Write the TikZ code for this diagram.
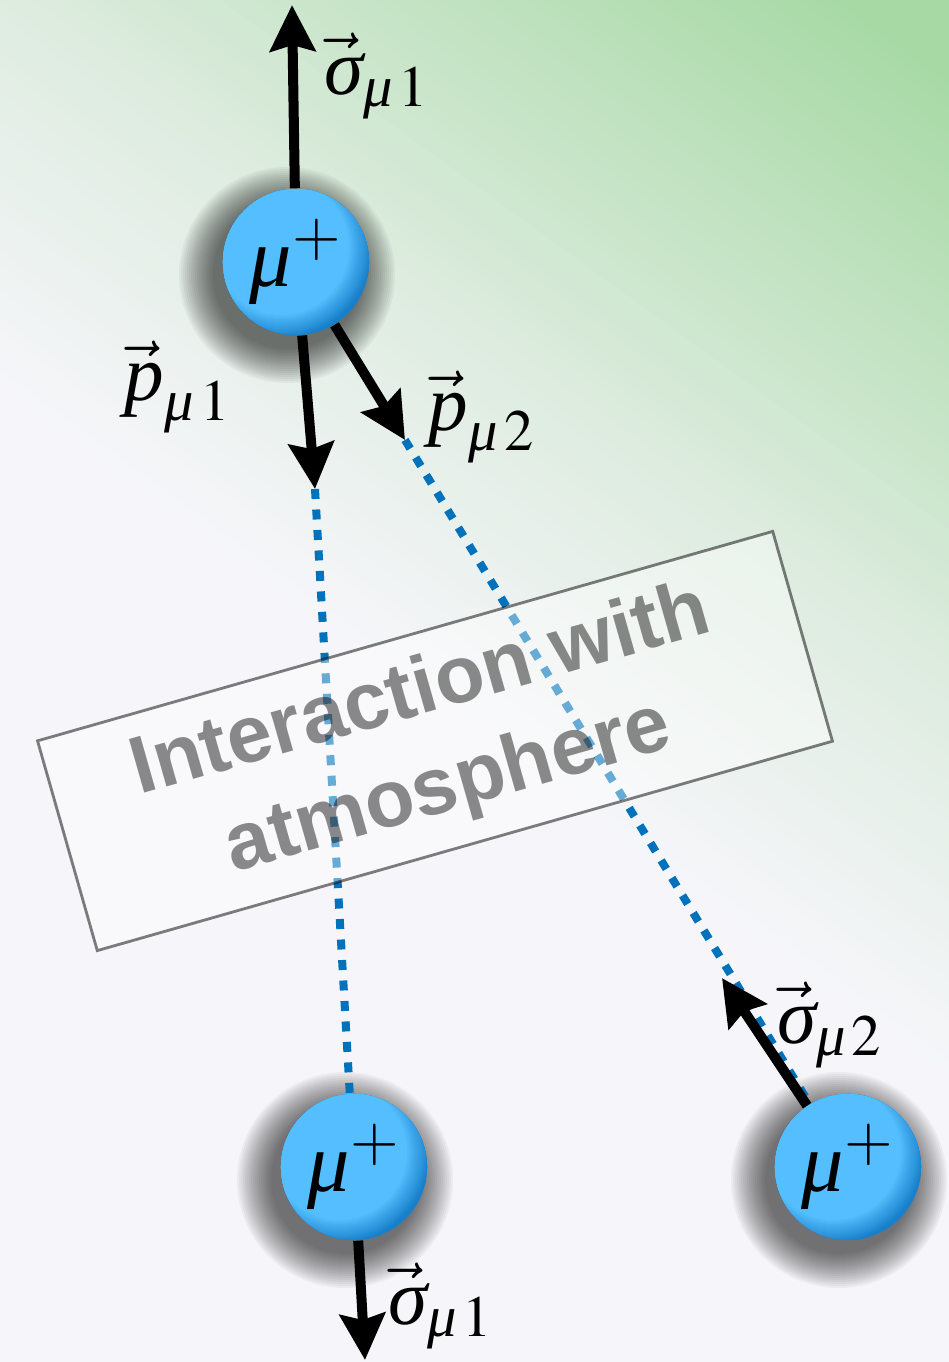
\documentclass[tikz,border=0pt]{standalone}
\usepackage{amsmath}
\usepackage{mathptmx}
\usepackage[no-math]{fontspec}
\newfontfamily\boxfont{Liberation Sans}
\newfontfamily\labelfont{Liberation Serif}
\newcommand{\gk}[1]{\text{\labelfont\itshape #1}}
\usepackage{tikz}
\usetikzlibrary{arrows.meta, positioning, calc}

\definecolor{bgwhite}{RGB}{246,246,250}
\definecolor{bglight}{RGB}{222,236,224}
\definecolor{bggreen}{RGB}{166,217,164}
\definecolor{balllight}{RGB}{84,190,254}
\definecolor{balldark}{RGB}{24,128,202}
\definecolor{trackblue}{RGB}{0,114,187}

\begin{document}
\begin{tikzpicture}[
  x=0.01cm, y=-0.01cm,
  >={Stealth[length=4.6mm, width=4.5mm, inset=0.6mm]},
  vecarrow/.style = {->, line width=1mm},
  track/.style    = {draw=trackblue, line width=0.8mm, dash pattern=on 1mm off 1.05mm},
  ball/.style     = {circle, inner sep=0pt, minimum size=1.46cm, fill=balldark,
                     path picture={
                       \foreach \k in {0,...,12}
                         \fill[balllight!\fpeval{\k*100/12}!balldark]
                           ($(path picture bounding box.center)+(-0.15cm,0.15cm)$)
                           circle ({0.92cm-\k*0.02cm});},
                     font=\fontsize{24}{28}\selectfont},
  halo/.style     = {fill=black, opacity=0.04},
  lbl/.style      = {inner sep=0pt, font=\fontsize{22.5}{27}\selectfont},
  medium/.style   = {draw=black, draw opacity=0.5, line width=0.8pt, fill=white, fill opacity=0.4,
                     text opacity=0.45, rotate=15.9, minimum width=7.64cm, minimum height=2.18cm,
                     align=center, font=\boxfont\bfseries\fontsize{23}{28.5}\selectfont},
]
  \useasboundingbox (0,0) rectangle (949,1362);

  % Background: white to green towards the top right
  \fill[bgwhite] (0,0) rectangle (949,1362);
  \begin{scope}
    \clip (0,0) rectangle (949,1362);
    \begin{scope}[rotate=-36]
      \foreach \i [evaluate=\i as \pct using \i*100/30, evaluate=\i as \ny using 320-320*\i/30] in {1,...,30}
        \fill[bglight!\pct!bgwhite] (-50,-700) rectangle (1700,\ny);
      \foreach \i [evaluate=\i as \pct using \i*2, evaluate=\i as \ny using -10*\i] in {1,...,50}
        \fill[bggreen!\pct!bglight] (-50,-700) rectangle (1700,\ny);
    \end{scope}
  \end{scope}

  % Ball centres and arrow tips
  \coordinate (c1)    at (296,262);
  \coordinate (c2)    at (354,1167);
  \coordinate (c3)    at (848,1167);
  \coordinate (s1top) at (292,5);
  \coordinate (pm1)   at (315,489);
  \coordinate (pm2)   at (405,440);
  \coordinate (s2tip) at (722,978);
  \coordinate (s1bot) at (365,1360);

  % Soft shadows
  \foreach \c in {c1,c2,c3}
    \foreach \r in {0.74,0.76,...,1.09}
      \fill[halo] ($(\c)+(-9,13)$) circle (\r cm);

  % Muons
  \node[ball] (b1) at (c1) {$\gk{μ}^+$};
  \node[ball] (b2) at (c2) {$\gk{μ}^+$};
  \node[ball] (b3) at (c3) {$\gk{μ}^+$};

  % Tracks
  \draw[track] (pm1) -- (b2);
  \draw[track] (pm2) -- (b3);

  % Atmosphere box
  \node[medium] (atm) at (435,741) {Interaction with\\atmosphere};

  % Momenta and spins
  \draw[vecarrow] (b1) -- (s1top);
  \draw[vecarrow] (b1) -- (pm1);
  \draw[vecarrow] (b1) -- (pm2);
  \draw[vecarrow] (b3) -- (s2tip);
  \draw[vecarrow] (b2) -- (s1bot);

  % Labels
  \node[lbl] (ls1)  at (377,76)   {$\vec{\gk{σ}}_{\gk{μ}\,1}$};
  \node[lbl] (lp1)  at (178,387)  {$\vec{\gk{p}}_{\gk{μ}\,1}$};
  \node[lbl] (lp2)  at (482,417)  {$\vec{\gk{p}}_{\gk{μ}\,2}$};
  \node[lbl] (ls2)  at (830,1025) {$\vec{\gk{σ}}_{\gk{μ}\,2}$};
  \node[lbl] (ls1b) at (441,1306) {$\vec{\gk{σ}}_{\gk{μ}\,1}$};
\end{tikzpicture}
\end{document}
